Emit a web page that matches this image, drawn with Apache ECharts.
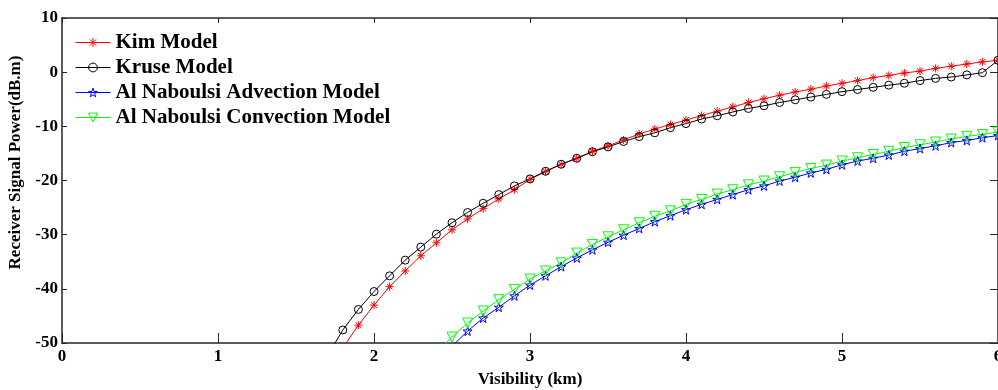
<!DOCTYPE html>
<html>
<head>
<meta charset="utf-8">
<script src="https://cdn.jsdelivr.net/npm/echarts@6/dist/echarts.min.js"></script>
<style>
html,body{margin:0;padding:0;background:#fff;}
#chart{width:998px;height:390px;}
</style>
</head>
<body>
<div id="chart"></div>
<script>
// Visibility (km) sample points
const visibility = [1.7,1.8,1.9,2.0,2.1,2.2,2.3,2.4,2.5,2.6,2.7,2.8,2.9,3.0,3.1,3.2,3.3,3.4,3.5,3.6,3.7,3.8,3.9,4.0,4.1,4.2,4.3,4.4,4.5,4.6,4.7,4.8,4.9,5.0,5.1,5.2,5.3,5.4,5.5,5.6,5.7,5.8,5.9,6.0];

const kimModel = [null,-50.9,-46.7,-43.0,-39.6,-36.7,-33.9,-31.5,-29.1,-27.1,-25.2,-23.4,-21.7,-19.8,-18.3,-17.0,-15.9,-14.6,-13.6,-12.5,-11.4,-10.5,-9.65,-8.85,-8.0,-7.2,-6.4,-5.6,-4.9,-4.25,-3.65,-3.15,-2.55,-2.05,-1.55,-1.0,-0.6,-0.15,0.2,0.7,1.1,1.5,1.9,2.2];

const kruseModel = [-52.4,-47.6,-43.8,-40.5,-37.6,-34.7,-32.3,-29.9,-27.8,-25.9,-24.2,-22.6,-21.0,-19.7,-18.3,-17.0,-15.9,-14.7,-13.8,-12.8,-11.9,-11.2,-10.25,-9.5,-8.65,-8.05,-7.35,-6.7,-6.2,-5.6,-5.1,-4.6,-4.1,-3.6,-3.2,-2.8,-2.4,-2.05,-1.55,-1.15,-0.9,-0.5,-0.1,2.2];

const advectionModel = [null,null,null,null,null,null,null,null,-50.6,-47.8,-45.4,-43.4,-41.3,-39.3,-37.6,-35.9,-34.3,-32.8,-31.4,-30.1,-28.85,-27.6,-26.5,-25.4,-24.4,-23.5,-22.6,-21.7,-21.0,-20.1,-19.4,-18.6,-17.95,-17.1,-16.4,-15.9,-15.3,-14.6,-14.1,-13.6,-13.0,-12.6,-12.1,-11.7];

const convectionModel = [null,null,null,null,null,null,null,-51.8,-48.9,-46.3,-44.1,-42.0,-40.1,-38.2,-36.7,-35.2,-33.4,-31.8,-30.4,-29.1,-27.8,-26.6,-25.6,-24.4,-23.5,-22.5,-21.7,-20.8,-20.1,-19.3,-18.5,-17.8,-17.15,-16.4,-15.8,-15.2,-14.6,-13.9,-13.4,-12.9,-12.35,-11.85,-11.5,-11.05];

const seriesNames = ['Kim Model','Kruse Model','Al Naboulsi Advection Model','Al Naboulsi Convection Model'];
const xTicks = [0,1,2,3,4,5,6];
const yTicks = [-50,-40,-30,-20,-10,0,10];

const FONT = '"Liberation Serif", "Times New Roman", serif';
const AXC = '#262626';
const CLEAR = 'rgba(0,0,0,0)';

const asteriskPath = 'path://M0,-5L0,5M-5,0L5,0M-3.6,-3.6L3.6,3.6M-3.6,3.6L3.6,-3.6';
const starPath = 'path://M0,-5L1.117,-1.537L4.755,-1.545L1.807,0.587L2.939,4.045L0,1.9L-2.939,4.045L-1.807,0.587L-4.755,-1.545L-1.117,-1.537Z';
const triDownPath = 'path://M-5,-4.33L5,-4.33L0,4.33Z';
const circlePath = 'circle';

const colors = ['#ff0000','#000000','#0000ff','#00ff00'];
const symbols = [asteriskPath, circlePath, starPath, triDownPath];
const sizes = [8, 8, 9, 10];
const allValues = [kimModel, kruseModel, advectionModel, convectionModel];

function pairs(vals){ return visibility.map((v,i)=>[v, vals[i]]); }

function mkSeries(i){
  return {
    name: seriesNames[i],
    type: 'line',
    data: pairs(allValues[i]),
    xAxisIndex: 0, yAxisIndex: 0,
    clip: true,
    connectNulls: false,
    symbol: symbols[i],
    symbolSize: sizes[i],
    showAllSymbol: true,
    lineStyle: {color: colors[i], width: 1},
    itemStyle: {color: CLEAR, borderColor: colors[i], borderWidth: 1},
    emphasis: {disabled: true},
    animation: false
  };
}

const chart = echarts.init(document.getElementById('chart'), null, {renderer: 'canvas'});
const axLine = {show: true, onZero: false, lineStyle: {color: AXC, width: 1.5}};
chart.setOption({
  backgroundColor: '#fff',
  animation: false,
  grid: {left: 62, right: 0, top: 18, bottom: 47, containLabel: false, outerBoundsMode: 'none'},
  legend: {
    show: true,
    data: seriesNames.map((n,i)=>({
      name: n,
      itemStyle: {color: CLEAR, borderColor: colors[i], borderWidth: 1},
      lineStyle: {color: colors[i], width: 1}
    })),
    orient: 'vertical',
    left: 75, top: 32, padding: 0,
    itemWidth: 35, itemHeight: 11, itemGap: 4,
    textStyle: {fontFamily: FONT, fontWeight: 'bold', fontSize: 21, color: '#000'},
    selectedMode: false
  },
  xAxis: [{
    type: 'value', min: 0, max: 6, interval: 1,
    name: 'Visibility (km)', nameLocation: 'middle', nameGap: 28,
    nameTextStyle: {fontFamily: FONT, fontWeight: 'bold', fontSize: 17, color: '#000'},
    axisLine: axLine,
    axisTick: {show: true, inside: true, length: 10, lineStyle: {color: AXC, width: 1}},
    axisLabel: {show: true, margin: 5, fontFamily: FONT, fontWeight: 'bold', fontSize: 17, color: '#000',
      alignMinLabel: 'center', alignMaxLabel: 'center', hideOverlap: false,
      formatter: v => xTicks.includes(v) ? String(v) : ''},
    splitLine: {show: false}
  },{
    type: 'value', min: 0, max: 6, interval: 1, position: 'top',
    axisLine: axLine,
    axisTick: {show: true, inside: true, length: 5, lineStyle: {color: AXC, width: 1}},
    axisLabel: {show: false}, splitLine: {show: false}
  }],
  yAxis: [{
    type: 'value', min: -50, max: 10, interval: 10,
    name: 'Receiver Signal Power(dB.m)', nameLocation: 'middle', nameGap: 38,
    nameTextStyle: {fontFamily: FONT, fontWeight: 'bold', fontSize: 17, color: '#000', padding: [0, 0, 0, 36]},
    axisLine: axLine,
    axisTick: {show: true, inside: true, length: 5, lineStyle: {color: AXC, width: 1}},
    axisLabel: {show: true, margin: 4, fontFamily: FONT, fontWeight: 'bold', fontSize: 17, color: '#000',
      formatter: v => yTicks.includes(v) ? String(v) : ''},
    splitLine: {show: false}
  },{
    type: 'value', min: -50, max: 10, interval: 10, position: 'right',
    axisLine: axLine,
    axisTick: {show: true, inside: true, length: 8, lineStyle: {color: AXC, width: 1}},
    axisLabel: {show: false}, splitLine: {show: false}
  }],
  series: [0,1,2,3].map(mkSeries)
});
</script>
</body>
</html>
